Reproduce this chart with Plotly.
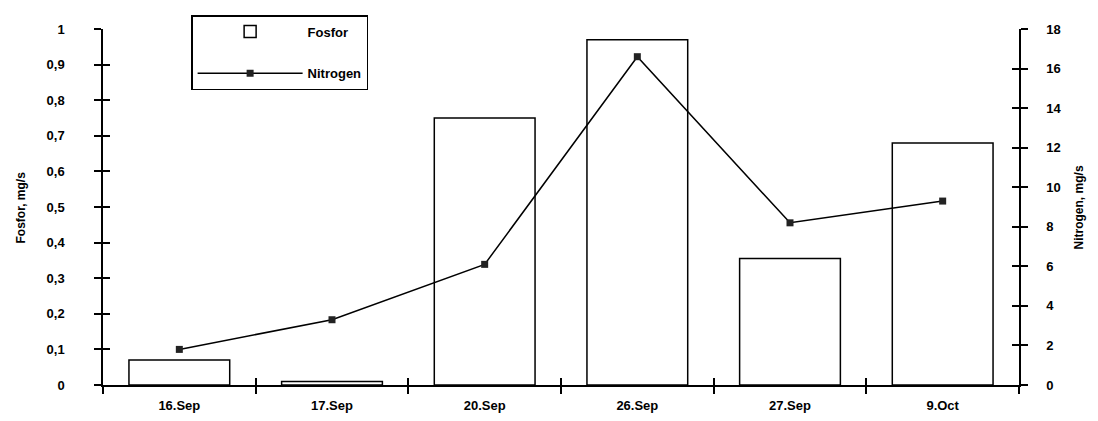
import plotly.graph_objects as go

categories = ["16.Sep", "17.Sep", "20.Sep", "26.Sep", "27.Sep", "9.Oct"]
fosfor = [0.07, 0.01, 0.75, 0.97, 0.355, 0.68]
nitrogen = [1.8, 3.3, 6.1, 16.6, 8.2, 9.3]

left_ticks = [0, 0.1, 0.2, 0.3, 0.4, 0.5, 0.6, 0.7, 0.8, 0.9, 1]
left_ticktext = ["0", "0,1", "0,2", "0,3", "0,4", "0,5", "0,6", "0,7", "0,8", "0,9", "1"]
right_ticks = [0, 2, 4, 6, 8, 10, 12, 14, 16, 18]
left_title = "Fosfor, mg/s"
right_title = "Nitrogen, mg/s"

FONT = "Liberation Sans"
tickfont = dict(family=FONT, size=13, color="black", weight="bold")
titlefont = dict(family=FONT, size=12, color="black", weight="bold")

fig = go.Figure()
fig.add_trace(go.Bar(
    x=categories, y=fosfor, name="Fosfor",
    marker=dict(color="white", line=dict(color="black", width=1.5)),
    legendgroup="a", yaxis="y",
))
fig.add_trace(go.Scatter(
    x=categories, y=nitrogen, name="Nitrogen", mode="lines+markers",
    line=dict(color="black", width=1.5),
    marker=dict(symbol="square", size=7, color="#222"),
    legendgroup="b", yaxis="y2",
))
# invisible helpers so the inner-tick overlay axes render
fig.add_trace(go.Scatter(
    x=categories, y=fosfor, xaxis="x2", yaxis="y3", mode="markers",
    marker=dict(opacity=0), showlegend=False, hoverinfo="skip",
))
fig.add_trace(go.Scatter(
    x=categories, y=nitrogen, xaxis="x2", yaxis="y4", mode="markers",
    marker=dict(opacity=0), showlegend=False, hoverinfo="skip",
))

fig.update_layout(
    width=1090, height=413,
    margin=dict(l=95, r=79, t=21, b=36, autoexpand=False),
    paper_bgcolor="white", plot_bgcolor="white",
    bargap=0.34,
    font=dict(family=FONT, color="black"),
    xaxis=dict(
        type="category", showline=True, linecolor="black", linewidth=1.5,
        ticks="outside", ticklen=7, tickwidth=1.5, tickcolor="black",
        tickson="boundaries", tickfont=tickfont, showgrid=False,
        ticklabelstandoff=8, range=[-0.5, 5.5], automargin=False,
    ),
    xaxis2=dict(
        overlaying="x", side="bottom", range=[-0.5, 5.5], type="category",
        ticks="inside", ticklen=7, tickwidth=1.5, tickcolor="black",
        tickson="boundaries", showticklabels=False,
        showgrid=False, showline=False, automargin=False,
    ),
    yaxis=dict(
        range=[0, 1], tickvals=left_ticks, ticktext=left_ticktext,
        showline=True, linecolor="black", linewidth=1.5,
        ticks="outside", ticklen=7, tickwidth=1.5, tickcolor="black",
        tickfont=tickfont, showgrid=False, zeroline=False,
        ticklabelstandoff=27, automargin=False,
    ),
    yaxis2=dict(
        range=[0, 18], tickvals=right_ticks, overlaying="y", side="right",
        showline=True, linecolor="black", linewidth=1.5,
        ticks="outside", ticklen=7, tickwidth=1.5, tickcolor="black",
        tickfont=tickfont, showgrid=False, zeroline=False,
        ticklabelstandoff=16, automargin=False,
    ),
    yaxis3=dict(
        range=[0, 1], tickvals=left_ticks, overlaying="y", side="left",
        ticks="inside", ticklen=7, tickwidth=1.5, tickcolor="black",
        showticklabels=False, showgrid=False, zeroline=False, showline=False,
        automargin=False,
    ),
    yaxis4=dict(
        range=[0, 18], tickvals=right_ticks, overlaying="y", side="right",
        ticks="inside", ticklen=7, tickwidth=1.5, tickcolor="black",
        showticklabels=False, showgrid=False, zeroline=False, showline=False,
        automargin=False,
    ),
    legend=dict(
        xref="container", yref="container",
        x=0.168, y=0.983, xanchor="left", yanchor="top",
        bordercolor="black", borderwidth=1.5, bgcolor="white",
        font=dict(family=FONT, size=13, weight="bold"),
        traceorder="grouped", tracegroupgap=22, itemwidth=105,
    ),
    annotations=[
        dict(text=left_title, xref="paper", yref="paper", x=-0.089, y=0.5,
             textangle=-90, showarrow=False, font=titlefont,
             xanchor="center", yanchor="middle"),
        dict(text=right_title, xref="paper", yref="paper", x=1.066, y=0.5,
             textangle=-90, showarrow=False, font=titlefont,
             xanchor="center", yanchor="middle"),
    ],
)

fig.write_html("out.html")
